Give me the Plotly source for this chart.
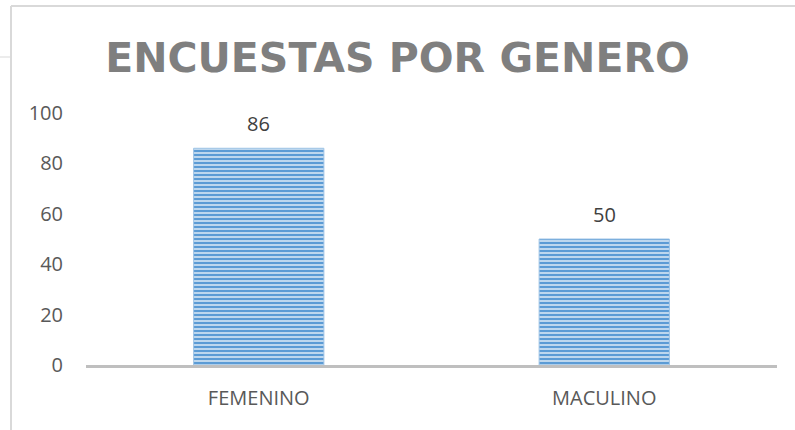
import plotly.graph_objects as go

categories = ["FEMENINO", "MACULINO"]
values = [86, 50]
y_ticks = [0, 20, 40, 60, 80, 100]
title_text = "ENCUESTAS POR GENERO"

W, H = 795, 430
ml, mr, mt, mb = 86, 18, 113, 65

fig = go.Figure(
    go.Bar(
        x=categories,
        y=values,
        marker=dict(
            color="#5b9bd5",
            line=dict(color="#9dc3e6", width=1),
            pattern=dict(shape="-", fgcolor="#5b9bd5", bgcolor="#d6e6f5",
                         fgopacity=1, size=4, solidity=0.6, fillmode="replace"),
        ),
        width=0.377,
    )
)

for c, v in zip(categories, values):
    fig.add_annotation(x=c, y=v, text=str(v), showarrow=False,
                       yanchor="bottom", yshift=9,
                       font=dict(family="Open Sans", size=20, color="#404040"))

# chart area border (top and left), plus small tick
pw, ph = W - ml - mr, H - mt - mb
shapes = [
    dict(type="line", xref="paper", yref="paper",
         x0=(11 - ml) / pw, x1=1 + mr / pw,
         y0=1 + (mt - 6) / ph, y1=1 + (mt - 6) / ph,
         line=dict(color="#d9d9d9", width=2)),
    dict(type="line", xref="paper", yref="paper",
         x0=(11 - ml) / pw, x1=(11 - ml) / pw,
         y0=1 + (mt - 6) / ph, y1=-mb / ph,
         line=dict(color="#d9d9d9", width=2)),
    dict(type="line", xref="paper", yref="paper",
         x0=-ml / pw, x1=(11 - ml) / pw,
         y0=1 + (mt - 57) / ph, y1=1 + (mt - 57) / ph,
         line=dict(color="#d9d9d9", width=1)),
]

fig.update_layout(
    width=W, height=H,
    margin=dict(l=ml, r=mr, t=mt, b=mb),
    paper_bgcolor="white", plot_bgcolor="white",
    showlegend=False,
    bargap=0.623,
    title=dict(text="<b>" + title_text + "</b>", x=0.5, xanchor="center",
               y=1 - 58 / H, yanchor="middle", xref="container",
               font=dict(family="DejaVu Sans", size=41, color="#7f7f7f")),
    xaxis=dict(showline=True, linecolor="#bfbfbf", linewidth=3,
               showgrid=False, ticks="", zeroline=False,
               tickfont=dict(family="Open Sans", size=20, color="#595959"),
               ticklabelstandoff=13),
    yaxis=dict(range=[0, 100], tickvals=y_ticks, showgrid=False,
               showline=False, zeroline=False, ticks="",
               tickfont=dict(family="Open Sans", size=20, color="#595959"),
               ticklabelstandoff=22),
    shapes=shapes,
)

fig.write_html("out.html", config={"displayModeBar": False},
               post_script="document.body.style.margin='0';document.body.style.padding='0';")
